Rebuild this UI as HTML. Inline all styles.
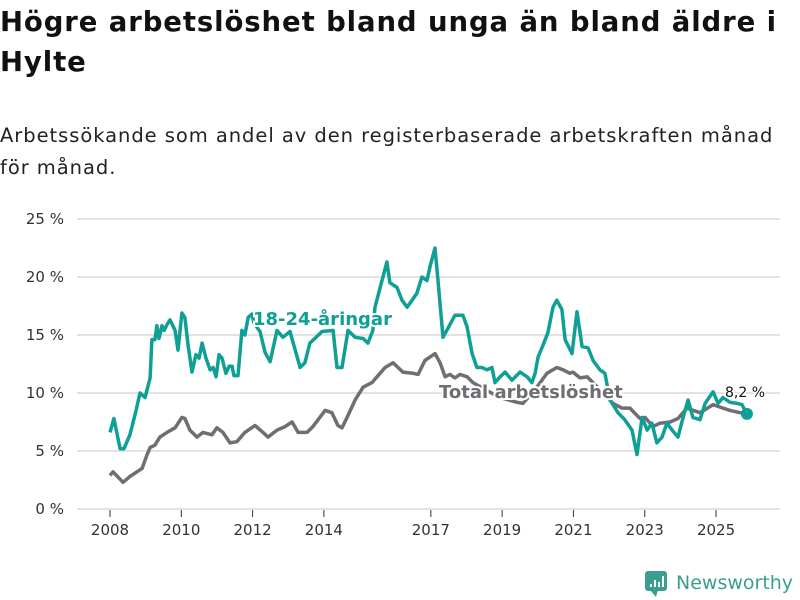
<!DOCTYPE html>
<html><head><meta charset="utf-8">
<style>
body{margin:0;background:#fff;font-family:"DejaVu Sans","Liberation Sans",sans-serif;}
#wrap{position:relative;width:800px;height:600px;overflow:hidden;}
h1{position:absolute;left:0;top:2px;margin:0;font-size:27.5px;line-height:40px;font-weight:bold;color:#111;width:800px;letter-spacing:0.9px;}
#sub{position:absolute;left:0;top:120px;margin:0;font-size:19.5px;line-height:32px;color:#222;width:795px;letter-spacing:0.95px;}
svg{position:absolute;left:0;top:0;}
</style></head><body>
<div id="wrap">
<h1>Högre arbetslöshet bland unga än bland äldre i Hylte</h1>
<p id="sub">Arbetssökande som andel av den registerbaserade arbetskraften månad för månad.</p>
<svg id="chart" width="800" height="600"></svg>
</div>
<script>
const yTicks=[0,5,10,15,20,25];
const yTickLabels=["0 %","5 %","10 %","15 %","20 %","25 %"];
const xTicks=[2008,2010,2012,2014,2017,2019,2021,2023,2025];
const youthMonths=[0,1.3,3.4,4.7,6.7,8.8,10.1,11.8,13.5,14.1,15.1,15.8,16.5,17.5,18.2,19.2,20.2,21.9,22.9,24.2,25.2,26.3,27.6,28.9,30.0,31.0,32.3,33.7,34.7,35.7,36.7,37.7,39.0,40.1,41.1,41.7,43.1,44.4,45.4,46.5,47.8,48.5,50.5,52.2,53.9,56.2,58.2,60.6,64.0,65.6,67.3,71.4,75.1,76.4,78.1,80.1,82.5,85.2,86.8,88.5,89.2,93.2,94.2,96.6,98.3,100.0,101.7,103.3,105.0,106.7,107.7,109.4,110.4,112.1,113.8,116.1,118.8,120.2,121.9,123.5,125.2,126.9,128.6,129.6,131.3,133.0,135.3,138.0,140.4,142.0,143.1,144.1,145.7,147.4,149.1,150.4,152.1,153.2,155.5,157.2,158.9,160.9,162.6,164.9,166.6,168.3,171.0,173.3,175.7,177.4,179.1,180.8,182.4,184.1,185.8,187.5,189.2,191.2,192.9,194.6,196.2,198.6,200.3,203.0,204.7,206.3,208.7,211.1,212.7,214.4];
const youthValues=[6.6,7.8,5.2,5.2,6.4,8.5,10.0,9.6,11.3,14.6,14.6,15.8,14.7,15.8,15.4,15.9,16.3,15.4,13.7,16.9,16.5,14.1,11.8,13.3,13.0,14.3,13.0,12.0,12.2,11.4,13.3,13.0,11.7,12.3,12.3,11.5,11.5,15.4,15.0,16.5,16.8,16.0,15.3,13.5,12.7,15.4,14.8,15.3,12.2,12.6,14.3,15.3,15.4,12.2,12.2,15.4,14.8,14.7,14.3,15.4,17.4,21.3,19.5,19.1,18.0,17.4,18.0,18.6,20.0,19.7,20.9,22.5,19.7,14.8,15.6,16.7,16.7,15.7,13.4,12.2,12.2,12.0,12.2,10.9,11.4,11.8,11.1,11.8,11.4,10.9,11.7,13.1,14.1,15.2,17.4,18.0,17.2,14.6,13.4,17.0,14.0,13.9,12.8,12.0,11.7,9.4,8.3,7.7,6.8,4.7,7.9,6.8,7.4,5.7,6.2,7.4,6.8,6.2,7.9,9.4,7.9,7.7,9.1,10.1,9.1,9.6,9.2,9.1,9.0,8.2];
const totalMonths=[0,1.0,4.4,6.7,10.8,12.5,13.5,15.1,16.8,19.2,21.9,24.2,25.2,26.9,29.3,31.3,34.3,36.0,38.0,40.4,42.7,45.4,48.8,51.5,53.2,56.2,58.9,61.3,63.3,66.3,68.3,72.4,74.7,76.7,78.1,79.8,82.5,85.2,88.2,90.9,92.6,95.3,98.6,102.0,103.7,106.0,109.4,111.1,112.8,114.4,116.1,117.8,120.2,122.2,126.2,131.3,137.0,139.0,143.1,147.1,150.4,152.5,154.8,155.8,158.2,160.6,164.9,169.3,172.3,175.0,178.4,180.1,182.8,185.1,188.5,191.2,194.2,198.6,203.0,206.3,208.7,212.1,213.7];
const totalValues=[2.9,3.2,2.3,2.8,3.5,4.7,5.3,5.5,6.2,6.6,7.0,7.9,7.8,6.8,6.2,6.6,6.4,7.0,6.6,5.7,5.8,6.6,7.2,6.6,6.2,6.8,7.1,7.5,6.6,6.6,7.1,8.5,8.3,7.2,7.0,7.9,9.4,10.5,10.9,11.7,12.2,12.6,11.8,11.7,11.6,12.8,13.4,12.6,11.4,11.6,11.3,11.6,11.4,10.9,10.3,9.6,9.2,9.1,10.3,11.7,12.2,12.0,11.7,11.8,11.3,11.4,10.3,9.1,8.7,8.7,7.8,7.9,7.1,7.4,7.5,7.8,8.7,8.3,9.0,8.7,8.5,8.3,8.3];

const NS="http://www.w3.org/2000/svg";
const svg=document.getElementById('chart');
const X0=110,PXY=35.65,Y0=509,PXV=11.6;
function xScale(m){return X0+m/12*PXY;}
function xYear(y){return X0+(y-2008)*PXY;}
function yScale(v){return Y0-v*PXV;}
function mk(tag,attrs){const e=document.createElementNS(NS,tag);for(const k in attrs)e.setAttribute(k,attrs[k]);svg.appendChild(e);return e;}

yTicks.forEach((t,i)=>{
  const g=mk('line',{x1:77,x2:780,y1:yScale(t),y2:yScale(t),stroke:'#d9d9d9','stroke-width':1.5});
  
  
  const tx=mk('text',{x:64,y:yScale(t)+5,'text-anchor':'end','font-size':15,fill:'#333'});
  tx.textContent=yTickLabels[i];
  
  
});
xTicks.forEach(t=>{
  const l=mk('line',{x1:xYear(t),x2:xYear(t),y1:510,y2:517,stroke:'#333','stroke-width':1});
  
  
  const tx=mk('text',{x:xYear(t),y:535,'text-anchor':'middle','font-size':15,fill:'#333'});
  tx.textContent=String(t);
  
  
});
function path(ms,vs){return ms.map((m,i)=>(i?'L':'M')+xScale(m).toFixed(1)+','+yScale(vs[i]).toFixed(1)).join(' ');}
const tl=mk('path',{d:path(totalMonths,totalValues),fill:'none',stroke:'#6e6e73','stroke-width':3.5,'stroke-linejoin':'round'});


const yl=mk('path',{d:path(youthMonths,youthValues),fill:'none',stroke:'#0fa095','stroke-width':3.5,'stroke-linejoin':'round'});


const lm=youthMonths[youthMonths.length-1],lv=youthValues[youthValues.length-1];
const dot=mk('circle',{cx:xScale(lm),cy:yScale(lv),r:6,fill:'#0fa095'});


const lt=mk('text',{x:745,y:397,'text-anchor':'middle','font-size':14,fill:'#111',stroke:'#fff','stroke-width':3,'paint-order':'stroke'});
lt.textContent=String(lv).replace('.',',')+' %';


const l1=mk('text',{x:253,y:325,'font-size':18,'font-weight':'bold',fill:'#0fa095',stroke:'#fff','stroke-width':4,'paint-order':'stroke'});
l1.textContent='18-24-åringar';


const l2=mk('text',{x:439,y:398,'font-size':18,'font-weight':'bold',fill:'#6e6e73',stroke:'#fff','stroke-width':4,'paint-order':'stroke'});
l2.textContent='Total arbetslöshet';


// logo
const lg=mk('rect',{x:645,y:571,width:22,height:20,rx:3,fill:'#3a9e8f'});


const tri=mk('path',{d:'M650,590 L656,597 L658,590 Z',fill:'#3a9e8f'});


[[650,584,3],[654,580,7],[658,582,5],[662,576,11]].forEach(b=>{
  const r=mk('rect',{x:b[0],y:b[1],width:2,height:b[2],fill:'#fff'});
  
  
});
const lgt=mk('text',{x:676,y:589,'font-size':19,fill:'#3a9e8f'});
lgt.textContent='Newsworthy';


</script>
</body></html>
